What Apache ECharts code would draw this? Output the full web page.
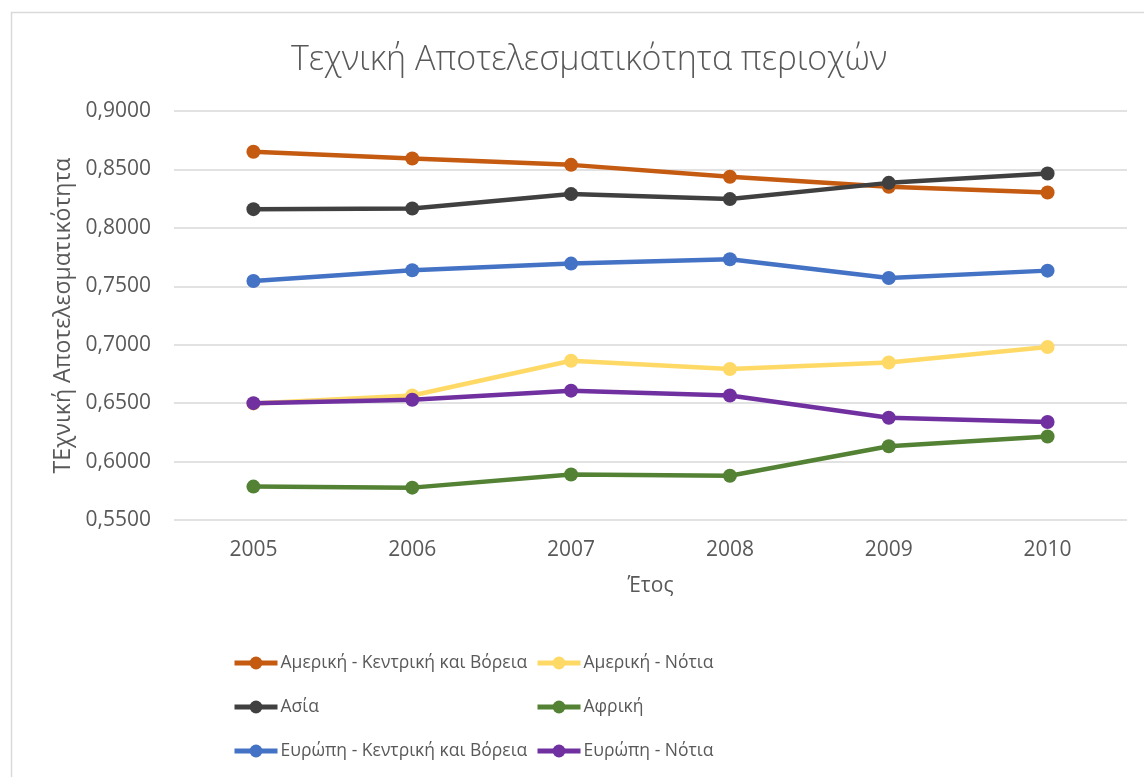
<!DOCTYPE html>
<html>
<head>
<meta charset="utf-8">
<script src="https://cdn.jsdelivr.net/npm/echarts@6/dist/echarts.min.js"></script>
<style>
  html, body { margin: 0; padding: 0; background: #ffffff; }
  #chart { width: 1144px; height: 777px; }
</style>
</head>
<body>
<div id="chart"></div>
<script>
// Years on the category axis
const years = ['2005', '2006', '2007', '2008', '2009', '2010'];

// Technical efficiency per region
const americaNorthCentral = [0.8651, 0.8594, 0.8539, 0.8437, 0.8351, 0.8303];
const americaSouth        = [0.6496, 0.6565, 0.6863, 0.6792, 0.6848, 0.6980];
const asia                = [0.8160, 0.8166, 0.8289, 0.8246, 0.8385, 0.8465];
const africa              = [0.5786, 0.5777, 0.5890, 0.5879, 0.6131, 0.6214];
const europeNorthCentral  = [0.7545, 0.7637, 0.7694, 0.7731, 0.7571, 0.7634];
const europeSouth         = [0.6500, 0.6529, 0.6607, 0.6566, 0.6375, 0.6338];

const seriesNames = [
  'Αμερική - Κεντρική και Βόρεια',
  'Αμερική - Νότια',
  'Ασία',
  'Αφρική',
  'Ευρώπη - Κεντρική και Βόρεια',
  'Ευρώπη - Νότια'
];
const seriesValues = [americaNorthCentral, americaSouth, asia, africa, europeNorthCentral, europeSouth];
const seriesColors = ['#C55A11', '#FFD966', '#404040', '#548235', '#4472C4', '#7030A0'];

const FONT = '"Open Sans", "Noto Sans", sans-serif';
const TEXT = '#595959';

const chart = echarts.init(document.getElementById('chart'), null, { renderer: 'canvas' });

const series = seriesNames.map((name, i) => ({
  name: name,
  type: 'line',
  data: seriesValues[i],
  symbol: 'circle',
  symbolSize: 14,
  color: seriesColors[i],
  lineStyle: { width: 4.5, color: seriesColors[i] },
  itemStyle: { color: seriesColors[i] },
  emphasis: { disabled: true },
  z: 2 + i
}));

// Two vertical legend columns laid out side by side
const legendCommon = {
  orient: 'vertical',
  height: 140,
  itemWidth: 43,
  itemHeight: 16,
  itemGap: 24,
  lineStyle: { width: 5 },
  textStyle: { fontFamily: FONT, fontSize: 17.5, lineHeight: 20, color: TEXT, padding: [0, 0, 0, -2] },
  selectedMode: false
};

chart.setOption({
  backgroundColor: '#ffffff',
  animation: false,
  title: {
    text: 'Τεχνική Αποτελεσματικότητα περιοχών',
    left: 286,
    top: 38,
    textStyle: { fontFamily: FONT, fontSize: 34, fontWeight: 300, color: TEXT }
  },
  graphic: [{
    type: 'rect',
    shape: { x: 11.5, y: 12.5, width: 1200, height: 800 },
    style: { fill: 'none', stroke: '#d9d9d9', lineWidth: 1.5 },
    silent: true,
    z: -1
  }],
  legend: [
    Object.assign({}, legendCommon, {
      left: 227, top: 648,
      data: [seriesNames[0], seriesNames[2], seriesNames[4]]
    }),
    Object.assign({}, legendCommon, {
      left: 530, top: 648,
      data: [seriesNames[1], seriesNames[3], seriesNames[5]]
    })
  ],
  grid: { left: 174, right: 17, top: 111, bottom: 257, containLabel: false },
  xAxis: {
    type: 'category',
    data: years,
    boundaryGap: true,
    axisLine: { show: false },
    axisTick: { show: false },
    axisLabel: { fontFamily: FONT, fontSize: 21, color: TEXT, margin: 20 },
    name: 'Έτος',
    nameLocation: 'middle',
    nameGap: 56,
    nameTextStyle: { fontFamily: FONT, fontSize: 21, color: TEXT }
  },
  yAxis: {
    type: 'value',
    min: 0.55,
    max: 0.90,
    interval: 0.05,
    axisLine: { show: false },
    axisTick: { show: false },
    splitLine: { lineStyle: { color: '#d9d9d9', width: 1.5 } },
    axisLabel: {
      fontFamily: FONT, fontSize: 21, color: TEXT, margin: 23,
      formatter: v => v.toFixed(4).replace('.', ',')
    },
    name: 'ΤΕχνική Αποτελεσματικότητα',
    nameLocation: 'middle',
    nameGap: 98,
    nameTextStyle: { fontFamily: FONT, fontSize: 23, color: TEXT }
  },
  series: series
});
</script>
</body>
</html>
